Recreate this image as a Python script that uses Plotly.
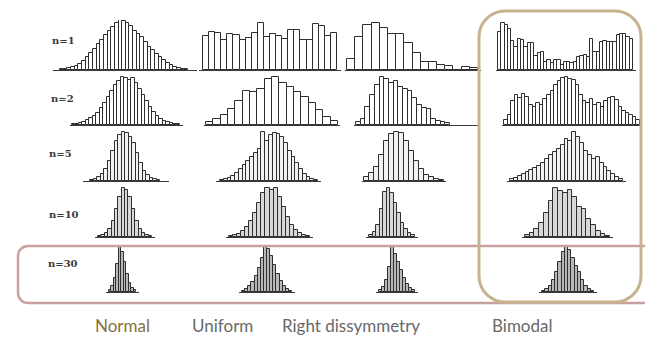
import plotly.graph_objects as go

# ---------------- data (relative frequencies) ----------------
DISTRIBUTIONS = ["Normal", "Uniform", "Right dissymmetry", "Bimodal"]
SAMPLE_SIZES = ["n=1", "n=2", "n=5", "n=10", "n=30"]

normal_n1 = [1, 1, 2, 3, 4, 6, 9, 13, 17, 21, 26, 30, 35, 39, 43, 47, 50, 49, 47, 44, 39, 36, 33, 28, 23, 20, 16, 13, 10, 7, 5, 3, 2, 1, 1]
uniform_n1 = [34, 38, 37, 30, 36, 35, 30, 32, 37, 47, 33, 36, 34, 31, 40, 40, 30, 30, 46, 44, 34, 37]
rightdis_n1 = [11, 33, 45, 47, 42, 36, 36, 27, 17, 8, 8, 5, 4, 0, 3, 2]
bimodal_n1 = [38, 47, 45, 41, 29, 23, 31, 30, 23, 27, 27, 14, 17, 18, 8, 10, 7, 10, 10, 5, 8, 8, 7, 8, 13, 14, 15, 13, 31, 18, 18, 28, 29, 28, 28, 28, 35, 36, 36, 33, 31]

normal_n2 = [1, 1, 2, 3, 5, 7, 9, 12, 17, 22, 28, 34, 40, 44, 48, 47, 45, 47, 42, 36, 30, 24, 18, 13, 9, 6, 4, 3, 2, 1, 1]
uniform_n2 = [3, 6, 10, 16, 24, 34, 33, 36, 46, 48, 42, 38, 33, 28, 22, 15, 8, 4]
rightdis_n2 = [3, 6, 18, 30, 40, 48, 46, 42, 44, 38, 36, 34, 27, 20, 17, 16, 6, 4, 3, 2]
bimodal_n2 = [5, 10, 24, 30, 27, 31, 28, 20, 18, 22, 20, 26, 30, 34, 40, 44, 47, 48, 46, 45, 40, 30, 24, 22, 26, 20, 22, 18, 24, 27, 28, 25, 18, 14, 12, 10, 8, 5]

normal_n5 = [1, 2, 4, 7, 12, 20, 30, 40, 46, 49, 48, 44, 38, 28, 18, 10, 6, 3, 2, 1]
uniform_n5 = [1, 2, 3, 5, 8, 12, 16, 20, 24, 28, 32, 49, 40, 46, 48, 47, 44, 38, 30, 24, 18, 12, 7, 4, 2, 1]
rightdis_n5 = [4, 8, 14, 26, 40, 47, 49, 48, 40, 30, 20, 12, 6, 4, 2, 1]
bimodal_n5 = [2, 3, 5, 7, 9, 11, 13, 15, 18, 22, 26, 29, 32, 36, 42, 40, 49, 44, 38, 30, 26, 22, 24, 18, 14, 10, 7, 4, 2]

normal_n10 = [1, 2, 4, 8, 16, 28, 40, 49, 47, 40, 28, 16, 8, 4, 2, 1]
uniform_n10 = [1, 2, 3, 6, 10, 16, 24, 34, 44, 49, 47, 49, 40, 30, 20, 12, 7, 4, 2, 1]
rightdis_n10 = [2, 5, 12, 28, 45, 49, 44, 34, 24, 14, 8, 4, 2]
bimodal_n10 = [2, 4, 8, 14, 24, 36, 49, 46, 44, 47, 40, 30, 28, 18, 12, 6, 3, 1]

normal_n30 = [2, 6, 14, 28, 45, 40, 30, 18, 9, 4, 2]
uniform_n30 = [1, 3, 6, 10, 16, 24, 34, 45, 43, 36, 27, 18, 11, 6, 3, 1]
rightdis_n30 = [2, 5, 12, 25, 45, 38, 30, 22, 14, 8, 4, 2]
bimodal_n30 = [1, 3, 6, 12, 20, 30, 40, 45, 42, 34, 26, 20, 12, 6, 3, 1]

GRID = [
    [normal_n1, uniform_n1, rightdis_n1, bimodal_n1],
    [normal_n2, uniform_n2, rightdis_n2, bimodal_n2],
    [normal_n5, uniform_n5, rightdis_n5, bimodal_n5],
    [normal_n10, uniform_n10, rightdis_n10, bimodal_n10],
    [normal_n30, uniform_n30, rightdis_n30, bimodal_n30],
]

# ---------------- layout geometry (pixels in the 645x347 canvas) ----------------
W, H = 645, 347
ROW_BASE = [70, 125, 181, 237, 292]
ROW_H = 50
Y_MAX = 50
# (axis_left, axis_right, bars_left, bars_right) per panel
PANEL_PX = [
    [(53, 197, 60, 188), (199, 341, 203, 337), (345, 481, 347, 478), (496, 636, 498, 633)],
    [(70, 183, 72, 180), (204, 340, 206, 338), (354, 478, 356, 450), (502, 641, 504, 640)],
    [(83, 169, 90, 160), (216, 321, 220, 318), (362, 446, 364, 444), (507, 626, 510, 623)],
    [(95, 155, 98, 152), (226, 313, 229, 310), (366, 418, 369, 415), (522, 613, 525, 610)],
    [(106, 139, 109, 136), (239, 295, 242, 292), (376, 418, 379, 415), (539, 597, 542, 594)],
]
ROW_FILL = ["#ffffff", "#ffffff", "#f2f2f2", "#d8d8d8", "#b8b8b8"]
LABEL_POS = [(50, 40), (49, 98), (47, 153), (47, 214), (46, 263)]
TITLE_X = [122, 222, 351, 522]
TITLE_Y = 325
TITLE_COLORS = ["#86703f", "#686868", "#686868", "#686868"]

fig = go.Figure()
layout_axes = {}
k = 0
for r, row in enumerate(GRID):
    for c, vals in enumerate(row):
        k += 1
        ax_l, ax_r, b_l, b_r = PANEL_PX[r][c]
        n = len(vals)
        scale = (b_r - b_l) / n
        lo = -0.5 - (b_l - ax_l) / scale
        hi = n - 0.5 + (ax_r - b_r) / scale
        xa = "x" if k == 1 else f"x{k}"
        ya = "y" if k == 1 else f"y{k}"
        fig.add_trace(go.Bar(
            x=list(range(n)), y=vals, width=1,
            xaxis=xa, yaxis=ya,
            marker=dict(color=ROW_FILL[r], line=dict(color="#2e2e2e", width=1)),
            hoverinfo="skip", showlegend=False,
        ))
        base = ROW_BASE[r]
        layout_axes["xaxis" if k == 1 else f"xaxis{k}"] = dict(
            domain=[ax_l / W, ax_r / W], range=[lo, hi], anchor=ya,
            showline=True, linecolor="#3a3a3a", linewidth=1,
            showgrid=False, zeroline=False, showticklabels=False, ticks="",
            fixedrange=True,
        )
        layout_axes["yaxis" if k == 1 else f"yaxis{k}"] = dict(
            domain=[1 - base / H, 1 - (base - ROW_H) / H], range=[0, Y_MAX],
            anchor=xa, visible=False, fixedrange=True,
        )

fig.update_layout(**layout_axes)


def rounded_path(x0, y0, x1, y1, rad):
    kk = 0.5523 * rad
    def P(x, y):
        return f"{x / W:.5f},{1 - y / H:.5f}"
    return (
        f"M {P(x0 + rad, y0)} L {P(x1 - rad, y0)} "
        f"C {P(x1 - rad + kk, y0)} {P(x1, y0 + rad - kk)} {P(x1, y0 + rad)} "
        f"L {P(x1, y1 - rad)} "
        f"C {P(x1, y1 - rad + kk)} {P(x1 - rad + kk, y1)} {P(x1 - rad, y1)} "
        f"L {P(x0 + rad, y1)} "
        f"C {P(x0 + rad - kk, y1)} {P(x0, y1 - rad + kk)} {P(x0, y1 - rad)} "
        f"L {P(x0, y0 + rad)} "
        f"C {P(x0, y0 + rad - kk)} {P(x0 + rad - kk, y0)} {P(x0 + rad, y0)} Z"
    )


shapes = [
    dict(type="path", xref="paper", yref="paper", path=rounded_path(18, 246, 655, 303, 10),
         line=dict(color="#c9a0a0", width=2.5), layer="above"),
    dict(type="path", xref="paper", yref="paper", path=rounded_path(479, 11, 641, 302, 26),
         line=dict(color="#c6b38e", width=3), layer="above"),
]

annotations = []
for i, lab in enumerate(SAMPLE_SIZES):
    x, y = LABEL_POS[i]
    annotations.append(dict(
        text=f"<b>{lab}</b>", x=x / W, y=1 - y / H, xref="paper", yref="paper",
        xanchor="left", yanchor="middle", showarrow=False,
        font=dict(family="DejaVu Serif", size=10, color="#3a3a3a"),
    ))
for i, name in enumerate(DISTRIBUTIONS):
    annotations.append(dict(
        text=name, x=TITLE_X[i] / W, y=1 - TITLE_Y / H, xref="paper", yref="paper",
        xanchor="center", yanchor="middle", showarrow=False,
        font=dict(family="Lato", size=17, color=TITLE_COLORS[i]),
    ))

fig.update_layout(
    width=W, height=H, margin=dict(l=0, r=0, t=0, b=0),
    paper_bgcolor="white", plot_bgcolor="rgba(0,0,0,0)",
    bargap=0, showlegend=False,
    shapes=shapes, annotations=annotations,
)

fig.write_html("out.html", config={"displayModeBar": False},
               post_script="document.body.style.margin='0';")
